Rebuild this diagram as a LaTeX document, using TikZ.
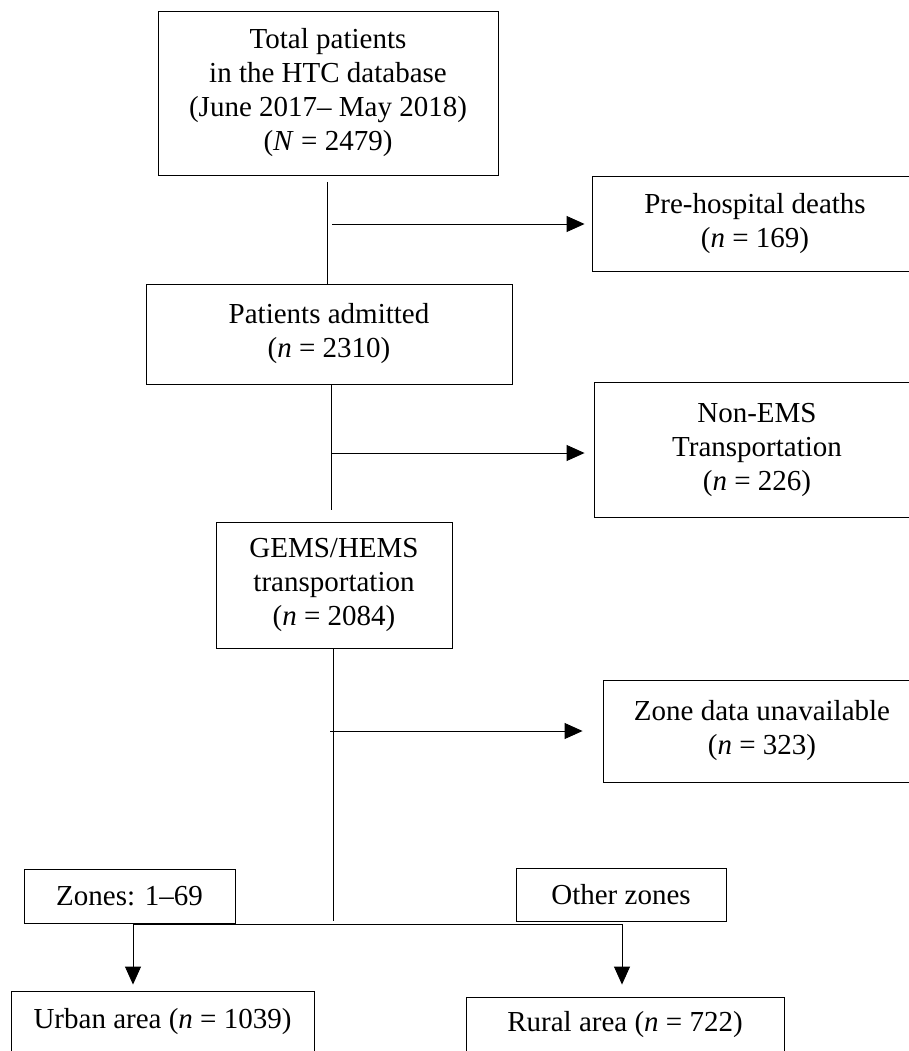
\documentclass[tikz,border=0pt]{standalone}
\usepackage{fontspec}
\setmainfont{Liberation Serif}
\usetikzlibrary{arrows.meta}

\begin{document}
\begin{tikzpicture}[x=1pt, y=-1pt, line width=0.9pt,
	box/.style={draw, rectangle, align=center, inner sep=0pt, font=\fontsize{29}{34}\selectfont},
	arr/.style={-{Triangle[length=18pt,width=16pt]}}]
	\useasboundingbox (0,0) rectangle (909,1051);
	\node[box,minimum width=340pt,minimum height=164pt] (total) at (328,93) {Total patients\\in the HTC database\\(June 2017– May 2018)\\(\textit{N} = 2479)};
	\node[box,minimum width=326pt,minimum height=95pt] (pre) at (755,223.5) {Pre-hospital deaths\\(\textit{n} = 169)};
	\node[box,minimum width=366pt,minimum height=100pt] (patients) at (329,334) {Patients admitted\\(\textit{n} = 2310)};
	\node[box,minimum width=326pt,minimum height=135pt] (nonems) at (757,449.5) {Non-EMS\\Transportation\\(\textit{n} = 226)};
	\node[box,minimum width=236pt,minimum height=126pt] (gems) at (334,585) {GEMS/HEMS\\transportation\\(\textit{n} = 2084)};
	\node[box,minimum width=318pt,minimum height=102pt] (zone) at (762,731) {Zone data unavailable\\(\textit{n} = 323)};
	\node[box,minimum width=211pt,minimum height=54pt] (zones) at (129.5,896) {Zones: 1–69};
	\node[box,minimum width=210pt,minimum height=53pt] (other) at (621,894.5) {Other zones};
	\node[box,minimum width=303pt,minimum height=61pt] (urban) at (162.5,1021.5) {Urban area (\textit{n} = 1039)};
	\node[box,minimum width=318pt,minimum height=56pt] (rural) at (625,1025) {Rural area (\textit{n} = 722)};
	% trunk
	\coordinate (a1) at (327,182);
	\coordinate (a2) at (331,510);
	\coordinate (a3) at (333,921);
	\draw (a1) -- (a1 |- patients.north);
	\draw (a2 |- patients.south) -- (a2);
	\draw (a3 |- gems.south) -- (a3);
	% exclusions
	\coordinate (b1) at (332,224);
	\coordinate (b2) at (331,453);
	\coordinate (b3) at (330,731);
	\foreach \a/\b/\g in {b1/pre/7,b2/nonems/9,b3/zone/20} {\draw[arr] (\a) -- ([xshift=-\g pt]\b.west |- \a);}
	% split by zone
	\coordinate (c1) at (133,924);
	\coordinate (c2) at (622,924);
	\draw (c1) -- (c2);
	\draw[arr] (c1) -- ([yshift=6pt]urban.north -| c1);
	\draw[arr] (c2) -- ([yshift=12pt]rural.north -| c2);
\end{tikzpicture}
\end{document}
